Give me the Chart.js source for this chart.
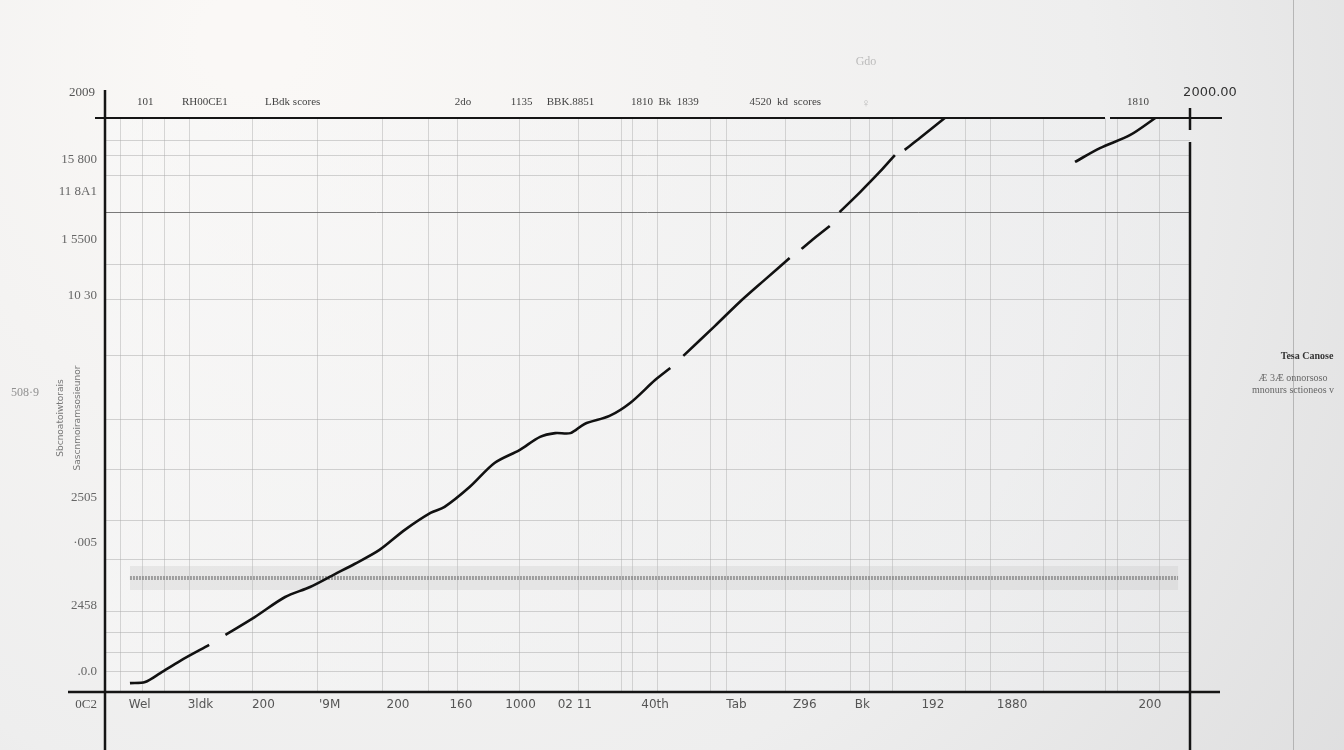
<!DOCTYPE html>
<html>
<head>
<meta charset="utf-8">
<script src="https://cdn.jsdelivr.net/npm/chart.js@4.4.1/dist/chart.umd.min.js"></script>
<style>
  html, body { margin: 0; padding: 0; background: #ececec; }
  #wrap { width: 1344px; height: 750px; position: relative; }
</style>
</head>
<body>
<div id="wrap"><canvas id="grafico" width="1344" height="750"></canvas></div>
<script>
// datos
const lineX = [2.3, 3.7, 5.1, 6.9, 9.6, 10.3, 11.1, 13.8, 16.6, 18.9, 21.2, 23.0, 25.3, 27.6, 30.0, 31.3,
  33.6, 35.9, 38.2, 40.1, 41.5, 42.9, 44.2, 46.5, 48.4, 50.7, 52.1, 52.7, 53.3, 56.2, 58.5, 60.8,
  63.1, 63.6, 64.2, 65.4, 66.8, 67.3, 67.7, 69.6, 71.4, 72.8, 73.2, 73.7, 75.1, 77.4, 83.0,
  89.4, 91.7, 94.5, 96.8];
const lineY = [31, 35, 66, 108, 164, null, 199, 261, 331, 366, 411, 446, 495, 564, 624, 645,
  714, 798, 843, 889, 902, 902, 934, 962, 1007, 1087, 1129, null, 1171, 1275, 1359, 1436,
  1512, null, 1544, 1582, 1624, null, 1672, 1742, 1812, 1871, null, 1889, 1930, 2000, null,
  1847, 1895, 1941, 2000];

// banda punteada horizontal
const bandX = [2.3, 98.9];
const bandY = [397, 397];

// etiquetas eje x inferior
const xLabels = ['Wel', '3ldk', '200', "'9M", '200', '160', '1000', '02 11', '40th', 'Tab', 'Z96', 'Bk', '192', '1880', '200'];
const xLabelPos = [3.2, 8.8, 14.6, 20.7, 27.0, 32.8, 38.3, 43.3, 50.7, 58.2, 64.5, 69.8, 76.3, 83.6, 96.3];

// etiquetas eje x superior
const topLabels = ['101', 'RH00CE1', 'LBdk scores', '2do', '1135', 'BBK.8851', '1810  Bk  1839', '4520  kd  scores', '1810'];
const topLabelPos = [3.7, 9.2, 17.3, 33.0, 38.4, 42.9, 51.6, 62.7, 95.2];

// etiquetas eje y
const yLabels = ['15 800', '11 8A1', '1 5500', '10 30', '2505', '\u00b7005', '2458', '.0.0'];
const yLabelPos = [1854, 1742, 1575, 1383, 679, 519, 300, 70];

// lineas de cuadricula
const gridX = [1.4, 3.5, 5.5, 7.8, 13.6, 19.6, 25.6, 29.8, 32.5, 38.2, 43.6, 47.6, 48.6, 50.9, 55.8,
  57.3, 62.7, 68.7, 70.5, 72.6, 79.3, 81.6, 86.5, 92.2, 93.3, 97.2];
const gridY = [1923, 1871, 1801, 1672, 1488, 1366, 1174, 948, 774, 599, 460, 279, 209, 139, 70];
const darkGridY = 1672;

const legendTitle = 'Tesa Canose';
const legendLines = ['\u00c6 3\u00c6 onnorsoso', 'mnonurs sctioneos v'];
const yTitle = ['Sbcnoatoiwtorais', 'Sascnmoiramsosieunor'];

const fondo = {
  id: 'fondo',
  beforeDraw(chart) {
    const { ctx, width, height, chartArea: a } = chart;
    ctx.save();
    const g = ctx.createRadialGradient(250, 40, 50, 500, 200, 1250);
    g.addColorStop(0, '#faf8f6');
    g.addColorStop(0.55, '#eeeeee');
    g.addColorStop(1, '#d7d7d8');
    ctx.fillStyle = g;
    ctx.fillRect(0, 0, width, height);
    const g2 = ctx.createLinearGradient(a.left, 0, a.right, 0);
    g2.addColorStop(0, 'rgba(248,248,248,0.5)');
    g2.addColorStop(1, 'rgba(236,237,239,0.4)');
    ctx.fillStyle = g2;
    ctx.fillRect(a.left, a.top, a.right - a.left, a.bottom - a.top);
    // borde derecho de la hoja
    ctx.strokeStyle = 'rgba(150,150,150,0.6)';
    ctx.lineWidth = 1;
    ctx.beginPath();
    ctx.moveTo(1293.5, 0);
    ctx.lineTo(1293.5, height);
    ctx.stroke();
    ctx.restore();
  },
  afterDraw(chart) {
    const { ctx, chartArea: a } = chart;
    ctx.save();
    ctx.strokeStyle = '#151515';
    ctx.lineCap = 'butt';
    // linea superior
    ctx.lineWidth = 2;
    ctx.beginPath();
    ctx.moveTo(a.left - 10, a.top); ctx.lineTo(a.right - 85, a.top);
    ctx.moveTo(a.right - 80, a.top); ctx.lineTo(a.right + 32, a.top);
    ctx.stroke();
    // ejes extendidos
    ctx.lineWidth = 2.5;
    ctx.beginPath();
    ctx.moveTo(a.left, a.top - 28); ctx.lineTo(a.left, 750);
    ctx.moveTo(a.left - 37, a.bottom); ctx.lineTo(a.right + 30, a.bottom);
    ctx.moveTo(a.right, a.top - 10); ctx.lineTo(a.right, a.top + 12);
    ctx.moveTo(a.right, a.top + 24); ctx.lineTo(a.right, 750);
    ctx.stroke();

    // textos sueltos
    ctx.fillStyle = '#555';
    ctx.font = '13px "Liberation Serif"';
    ctx.textAlign = 'right';
    ctx.textBaseline = 'middle';
    ctx.fillText('2009', a.left - 10, a.top - 25);
    ctx.fillText('0C2', a.left - 8, a.bottom + 13);
    ctx.fillStyle = '#333';
    ctx.textAlign = 'center';
    ctx.font = '13px "DejaVu Sans"';
    ctx.fillText('2000.00', a.right + 20, a.top - 25);
    ctx.fillStyle = 'rgba(120,120,120,0.45)';
    ctx.font = '12px "Liberation Serif"';
    ctx.fillText('Gdo', 866, 62);
    ctx.fillText('\u2640', 866, 104);
    ctx.fillStyle = 'rgba(120,120,120,0.8)';
    ctx.font = '12px "Liberation Serif"';
    ctx.fillText('508\u00b79', 25, 393);

    // titulo eje y (vertical)
    ctx.fillStyle = '#777';
    ctx.font = '9px "DejaVu Sans"';
    yTitle.forEach((t, i) => {
      ctx.save();
      ctx.translate(61 + i * 17, 418);
      ctx.rotate(-Math.PI / 2);
      ctx.fillText(t, 0, 0);
      ctx.restore();
    });

    // leyenda
    ctx.textAlign = 'center';
    ctx.fillStyle = '#333';
    ctx.font = 'bold 10px "Liberation Serif"';
    ctx.fillText(legendTitle, 1307, 356);
    ctx.fillStyle = '#666';
    ctx.font = '10px "Liberation Serif"';
    legendLines.forEach((t, i) => ctx.fillText(t, 1293, 378 + i * 12));
    ctx.restore();
  }
};

const datos = lineX.map((x, i) => ({ x: x, y: lineY[i] }));
const banda = bandX.map((x, i) => ({ x: x, y: bandY[i] }));

new Chart(document.getElementById('grafico'), {
  type: 'line',
  data: {
    datasets: [{
      label: 'serie',
      data: datos,
      borderColor: '#111',
      borderWidth: 2.6,
      pointRadius: 0,
      tension: 0.3,
      spanGaps: false,
      xAxisID: 'x',
      yAxisID: 'y'
    }, {
      label: 'banda',
      data: banda,
      borderColor: 'rgba(110,110,110,0.6)',
      borderWidth: 4,
      borderDash: [2, 1],
      pointRadius: 0,
      xAxisID: 'x',
      yAxisID: 'y'
    }, {
      label: 'banda2',
      data: banda,
      borderColor: 'rgba(180,180,180,0.22)',
      borderWidth: 24,
      pointRadius: 0,
      xAxisID: 'x',
      yAxisID: 'y'
    }]
  },
  options: {
    responsive: false,
    animation: false,
    layout: { padding: { left: 0, top: 0, right: 154, bottom: 0 } },
    plugins: {
      legend: { display: false },
      title: { display: false },
      tooltip: { enabled: false }
    },
    scales: {
      x: {
        type: 'linear',
        position: 'bottom',
        min: 0, max: 100,
        afterBuildTicks: s => { s.ticks = xLabelPos.map(v => ({ value: v })); },
        afterFit: s => { s.height = 58; },
        ticks: {
          autoSkip: false,
          maxRotation: 0,
          padding: 6,
          color: '#555',
          font: { family: 'DejaVu Sans', size: 12 },
          callback: (v, i) => xLabels[i]
        },
        grid: { display: false, drawTicks: false },
        border: { display: false }
      },
      gx: {
        type: 'linear',
        position: 'bottom',
        min: 0, max: 100,
        afterBuildTicks: s => { s.ticks = gridX.map(v => ({ value: v })); },
        afterFit: s => { s.height = 0; },
        ticks: { display: false },
        grid: { color: 'rgba(170,170,170,0.45)', lineWidth: 1, drawTicks: false },
        border: { display: false }
      },
      xTop: {
        type: 'linear',
        position: 'top',
        min: 0, max: 100,
        afterBuildTicks: s => { s.ticks = topLabelPos.map(v => ({ value: v })); },
        afterFit: s => { s.height = 118; },
        ticks: {
          autoSkip: false,
          maxRotation: 0,
          padding: 9,
          color: '#444',
          font: { family: 'Liberation Serif', size: 11 },
          callback: (v, i) => topLabels[i]
        },
        grid: { display: false, drawTicks: false },
        border: { display: false }
      },
      y: {
        type: 'linear',
        position: 'left',
        min: 0, max: 2000,
        afterBuildTicks: s => { s.ticks = yLabelPos.map(v => ({ value: v })); },
        afterFit: s => { s.width = 105; },
        ticks: {
          autoSkip: false,
          padding: 8,
          color: '#666',
          font: { family: 'Liberation Serif', size: 13 },
          callback: (v, i) => yLabels[i]
        },
        grid: { display: false, drawTicks: false },
        border: { display: false }
      },
      gy: {
        type: 'linear',
        position: 'left',
        min: 0, max: 2000,
        afterBuildTicks: s => { s.ticks = gridY.map(v => ({ value: v })); },
        afterFit: s => { s.width = 0; },
        ticks: { display: false },
        grid: {
          drawTicks: false,
          lineWidth: 1,
          color: c => (c.tick && c.tick.value === darkGridY) ? 'rgba(90,90,90,0.8)' : 'rgba(170,170,170,0.5)'
        },
        border: { display: false }
      }
    }
  },
  plugins: [fondo]
});
</script>
</body>
</html>
